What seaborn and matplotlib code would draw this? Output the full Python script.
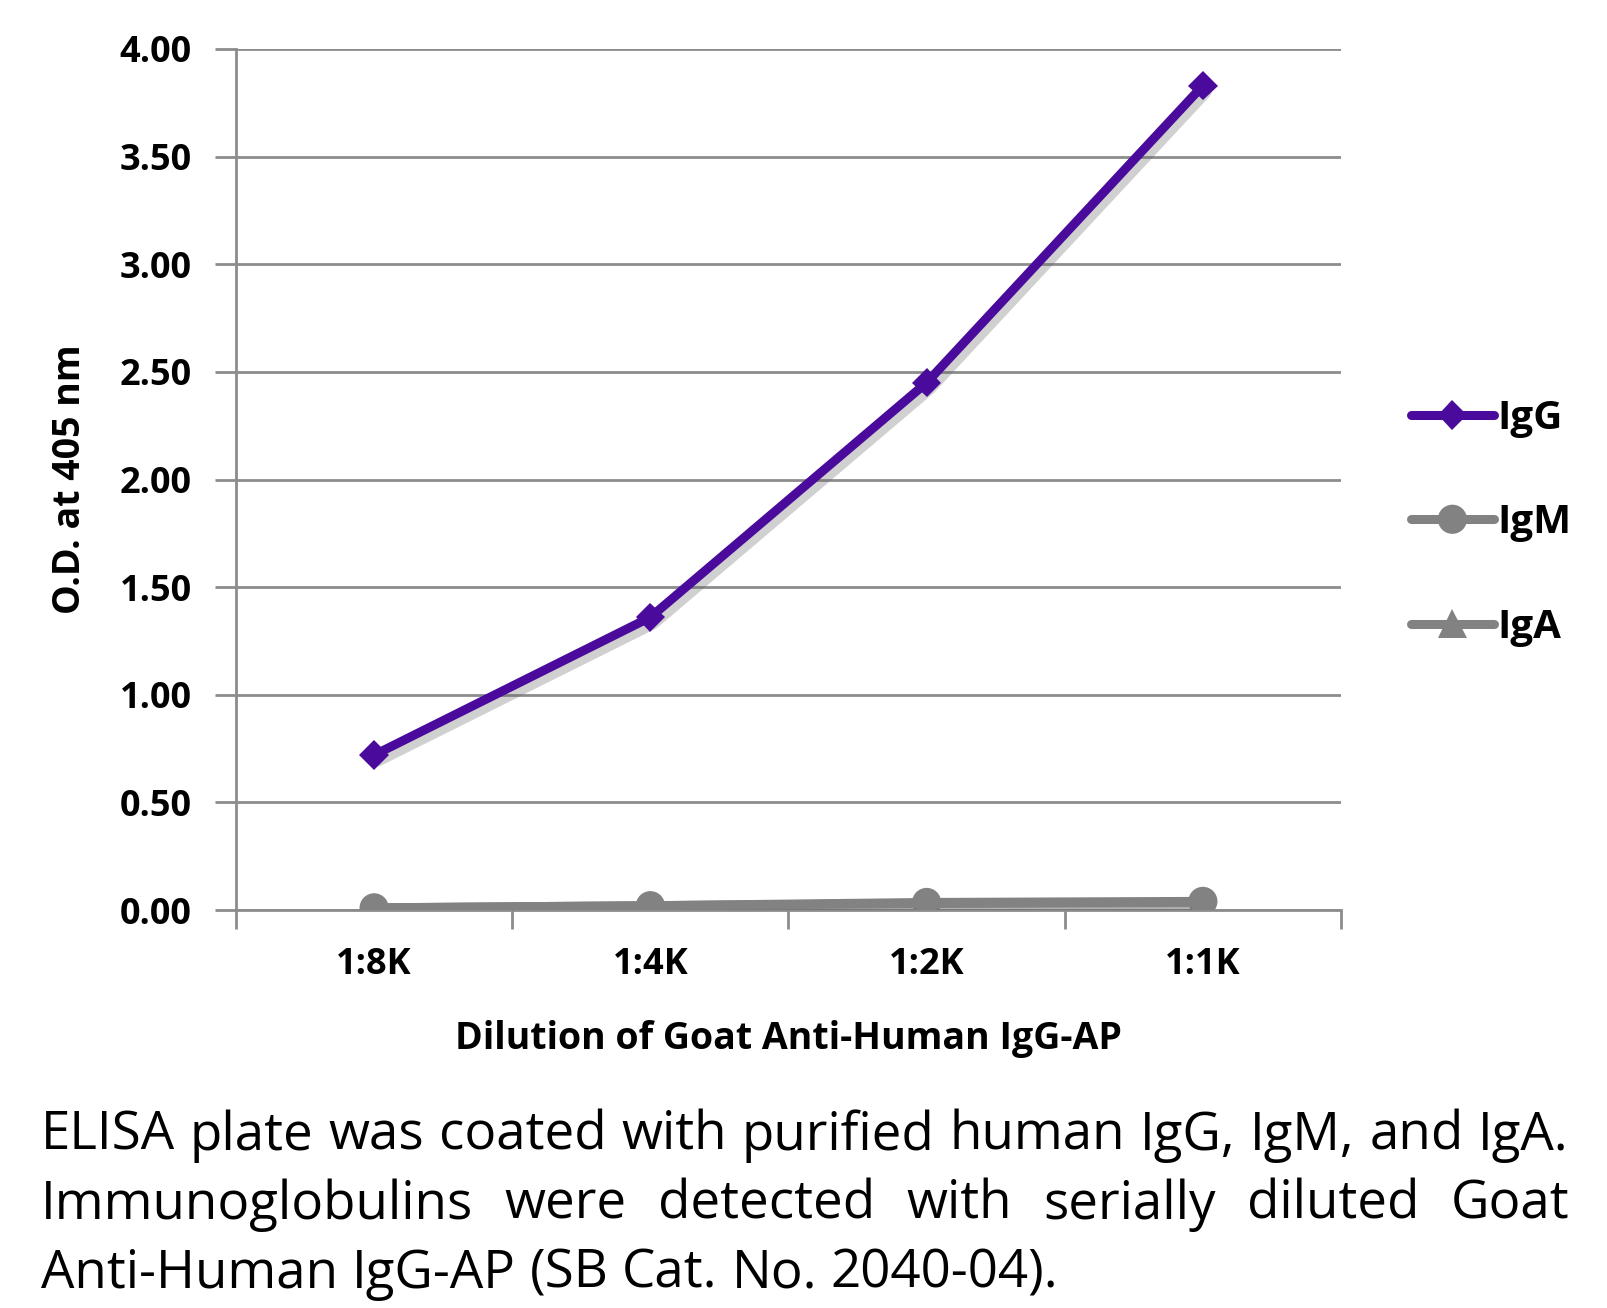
import matplotlib
matplotlib.use("Agg")
import matplotlib.pyplot as plt
import matplotlib.patheffects as pe
import seaborn as sns
import pandas as pd
import numpy as np

dilutions = ["1:8K", "1:4K", "1:2K", "1:1K"]
igg = [0.72, 1.36, 2.45, 3.83]
igm = [0.01, 0.02, 0.035, 0.04]
iga = [0.01, 0.02, 0.03, 0.035]
series_names = ["IgG", "IgM", "IgA"]
yticks = [0.0, 0.5, 1.0, 1.5, 2.0, 2.5, 3.0, 3.5, 4.0]
caption_lines = [
    "ELISA plate was coated with purified human IgG, IgM, and IgA.",
    "Immunoglobulins were detected with serially diluted Goat",
    "Anti-Human IgG-AP (SB Cat. No. 2040-04).",
]

sns.set_theme(style="white")
plt.rcParams["font.family"] = ["Open Sans", "DejaVu Sans"]

df = pd.DataFrame({
    "pos": list(range(4)) * 3,
    "od": igg + igm + iga,
    "series": ["IgG"] * 4 + ["IgM"] * 4 + ["IgA"] * 4,
})

W, H = 1608, 1308
fig = plt.figure(figsize=(W / 100, H / 100), dpi=100)
ax = fig.add_axes([236 / W, 1 - 910 / H, (1341 - 236) / W, (910 - 49) / H])

colors = {"IgG": "#4a0a9c", "IgM": "#828282", "IgA": "#828282"}
markers = {"IgG": "D", "IgM": "o", "IgA": "^"}
msizes = {"IgG": 15, "IgM": 21, "IgA": 21}
order = ["IgM", "IgA", "IgG"]
for s in order:
    sub = df[df.series == s]
    sns.lineplot(data=sub, x="pos", y="od", ax=ax, color=colors[s], marker=markers[s],
                 markersize=msizes[s], markeredgewidth=0, linewidth=6.5, label=s,
                 zorder=4 if s == "IgG" else 3, legend=False)
for ln in ax.get_lines():
    ln.set_path_effects([pe.SimpleLineShadow(offset=(3, -5), shadow_color="#666666", alpha=0.3),
                         pe.Normal()])
    ln.set_solid_capstyle("round")

ax.set_xlim(-0.5, 3.5)
ax.set_ylim(0, 4.0)
ax.set_yticks(yticks)
ax.set_yticklabels([f"{v:.2f}" for v in yticks], fontsize=26, fontweight="bold")
ax.yaxis.grid(True, color="#8c8c8c", linewidth=2)
ax.set_axisbelow(True)
ax.set_xticks([-0.5, 0.5, 1.5, 2.5, 3.5])
ax.set_xticklabels([])
ax.set_xticks([0, 1, 2, 3], minor=True)
ax.set_xticklabels(dilutions, minor=True, fontsize=26, fontweight="bold")
ax.tick_params(axis="x", which="major", direction="out", length=14, width=2, color="#8c8c8c", bottom=True)
ax.tick_params(axis="x", which="minor", length=0, pad=27)
ax.tick_params(axis="y", direction="out", length=15, width=2, color="#8c8c8c", left=True, pad=17)
for t in ax.get_xticklabels(minor=True) + ax.get_yticklabels():
    t.set_color("black")
for sp in ["top", "right"]:
    ax.spines[sp].set_visible(False)
for sp in ["left", "bottom"]:
    ax.spines[sp].set_color("#8c8c8c")
    ax.spines[sp].set_linewidth(2)

ax.set_xlabel("Dilution of Goat Anti-Human IgG-AP", fontsize=27, fontweight="bold",
              labelpad=26, color="black")
ax.set_ylabel("O.D. at 405 nm", fontsize=27, fontweight="bold", labelpad=22, color="black")

# legend
handles = {ln.get_label(): ln for ln in ax.get_lines()}
leg = fig.legend([handles[n] for n in series_names], series_names,
                 loc="upper left", bbox_to_anchor=(1395 / W, 1 - 383 / H),
                 frameon=False, fontsize=29, labelspacing=1.62, handlelength=2.05,
                 handletextpad=0.1, borderaxespad=0)
for t in leg.get_texts():
    t.set_fontweight("bold")
    t.set_color("black")
for h in leg.legend_handles:
    h.set_path_effects([pe.Normal()])
    h.set_solid_capstyle("round")

# justified caption; choose font size so that line 1 fits naturally
fig.canvas.draw()
r = fig.canvas.get_renderer()
x0, x1 = 41, 1569
ys = [1136, 1205, 1274]


def width_of(s, fs):
    t = fig.text(0, 0, s, fontsize=fs)
    w = t.get_window_extent(r).width
    t.remove()
    return w


fs = 36.0
for _ in range(20):
    w = width_of(caption_lines[0], fs)
    fs *= (x1 - x0) / w
fs = fs * 0.995

for i, (line, yy) in enumerate(zip(caption_lines, ys)):
    words = line.split(" ")
    texts = [fig.text(0, 1 - yy / H, w, fontsize=fs, va="center", ha="left", color="black") for w in words]
    widths = [t.get_window_extent(r).width for t in texts]
    if i < len(caption_lines) - 1:
        gap = (x1 - x0 - sum(widths)) / (len(words) - 1)
    else:
        gap = width_of("a b", fs) - width_of("ab", fs)
    x = x0
    for t, w in zip(texts, widths):
        t.set_x(x / W)
        x += w + gap

fig.savefig("out.png", dpi=100)
